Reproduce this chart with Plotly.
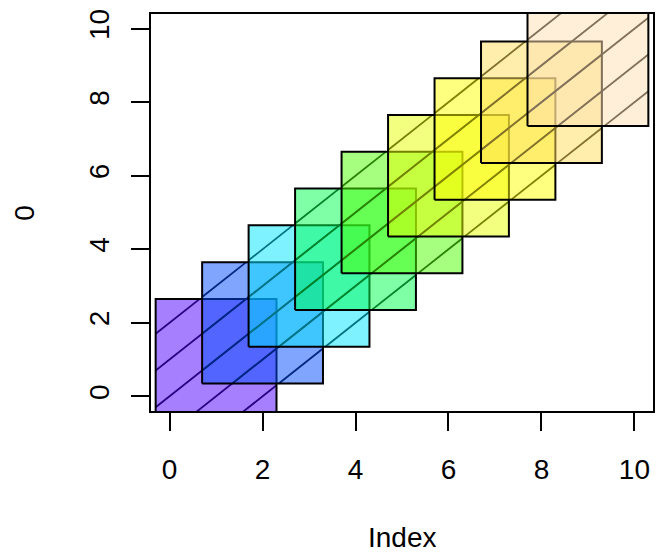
import plotly.graph_objects as go

# Rectangle bounds (data units)
x_left   = [-0.3, 0.7, 1.7, 2.7, 3.7, 4.7, 5.7, 6.7, 7.7]
x_right  = [2.3, 3.3, 4.3, 5.3, 6.3, 7.3, 8.3, 9.3, 10.3]
y_bottom = [-0.65, 0.35, 1.35, 2.35, 3.35, 4.35, 5.35, 6.35, 7.35]
y_top    = [2.65, 3.65, 4.65, 5.65, 6.65, 7.65, 8.65, 9.65, 10.65]
# topo.colors(9, alpha = 0.5)
fill_colors = ["#4C00FF", "#004CFF", "#00E5FF", "#00FF4D", "#4DFF00",
               "#E6FF00", "#FFFF00", "#FFDE59", "#FFE0B3"]
# hatch lines y = x + k
hatch_offsets = [-2, -1, 0, 1, 2]

x_ticks = [0, 2, 4, 6, 8, 10]
y_ticks = [0, 2, 4, 6, 8, 10]


def rgba(hexc, a):
    h = hexc.lstrip("#")
    r, g, b = int(h[0:2], 16), int(h[2:4], 16), int(h[4:6], 16)
    return f"rgba({r},{g},{b},{a})"


def hatch_segments(x0, x1, y0, y1, ks):
    xs, ys = [], []
    for k in ks:
        xa = max(x0, y0 - k)
        xb = min(x1, y1 - k)
        if xb > xa:
            xs += [xa, xb, None]
            ys += [xa + k, xb + k, None]
    return xs, ys


fig = go.Figure()
for i in range(len(x_left)):
    hx, hy = hatch_segments(x_left[i], x_right[i], y_bottom[i], y_top[i], hatch_offsets)
    fig.add_trace(go.Scatter(x=hx, y=hy, mode="lines",
                             line=dict(color="black", width=1.8),
                             hoverinfo="skip", showlegend=False))
    fig.add_trace(go.Scatter(
        x=[x_left[i], x_right[i], x_right[i], x_left[i], x_left[i]],
        y=[y_bottom[i], y_bottom[i], y_top[i], y_top[i], y_bottom[i]],
        mode="lines", fill="toself", fillcolor=rgba(fill_colors[i], 0.5),
        line=dict(color="black", width=2), showlegend=False))

font = dict(family="Liberation Sans, Arial, sans-serif", size=28, color="black")
axis_common = dict(showgrid=False, zeroline=False, showline=True, mirror=True,
                   linecolor="black", linewidth=1.8, ticks="outside", ticklen=18,
                   tickwidth=1.8, tickcolor="black", tickfont=font)

fig.update_layout(
    width=657, height=552,
    margin=dict(l=151, r=2, t=14, b=141),
    paper_bgcolor="white", plot_bgcolor="white",
    xaxis=dict(range=[-0.4, 10.4], tickvals=x_ticks, ticktext=[str(v) for v in x_ticks],
               ticklabelstandoff=14, **axis_common),
    yaxis=dict(range=[-0.4, 10.4], tickvals=y_ticks, ticktext=[str(v) for v in y_ticks],
               tickangle=-90, ticklabelstandoff=11, **axis_common),
    annotations=[
        dict(text="Index", xref="paper", yref="paper", x=0.5, y=-0.318,
             xanchor="center", yanchor="middle", valign="middle", height=26,
             showarrow=False, font=font),
        dict(text="0", xref="paper", yref="paper", x=-0.2526, y=0.5, textangle=-90,
             xanchor="center", yanchor="middle", showarrow=False, font=font),
    ],
)

fig.write_html("out.html", config={"displayModeBar": False},
               post_script="document.body.style.margin='0';document.body.style.overflow='hidden';")
